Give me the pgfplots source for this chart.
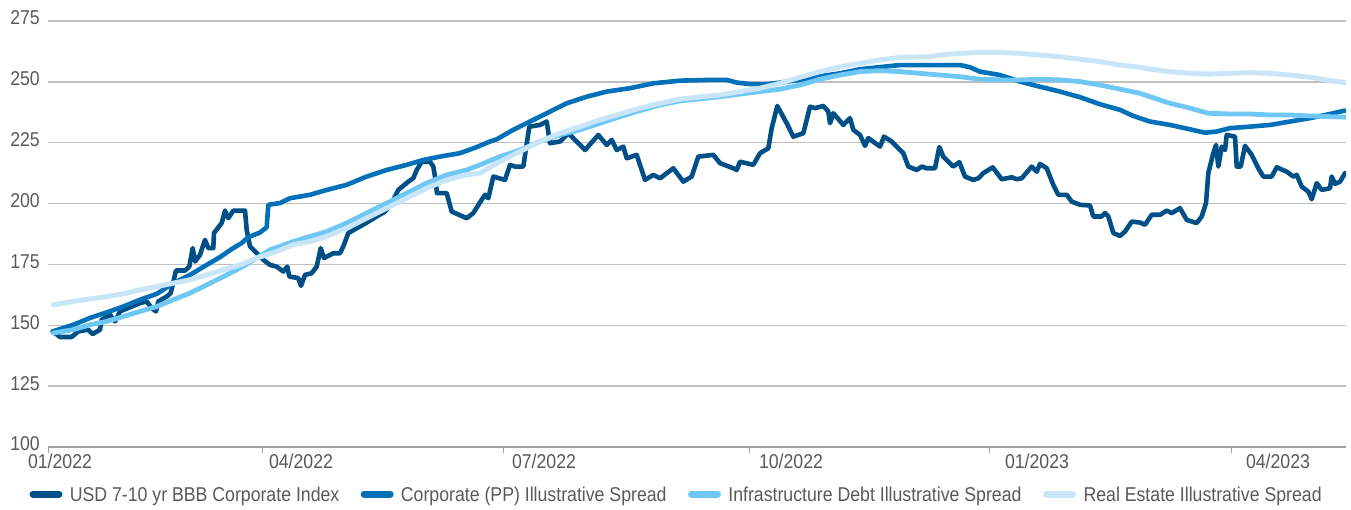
\documentclass[border=0pt]{standalone}
\usepackage{fontspec}
\setmainfont{Liberation Sans}[FakeStretch=0.885]
\usepackage{pgfplots}
\pgfplotsset{compat=1.18}
\definecolor{cdark}{RGB}{0,79,135}
\definecolor{cmed}{RGB}{0,112,184}
\definecolor{cinfra}{RGB}{110,200,243}
\definecolor{creal}{RGB}{200,230,248}
\definecolor{gridgray}{RGB}{192,192,192}
\definecolor{axisgray}{RGB}{160,160,160}
\definecolor{txtgray}{RGB}{89,89,89}
\begin{document}
\begin{tikzpicture}
\begin{axis}[
  name=ax,
  scale only axis, width=1298bp, height=426bp,
  xmin=48, xmax=1346, ymin=100, ymax=275,
  axis x line*=bottom, axis y line*=left,
  y axis line style={draw=none},
  x axis line style={draw=axisgray, line width=1.5bp},
  ymajorgrids, major grid style={draw=gridgray, line width=1.3bp},
  ytick={100,125,...,275},
  major tick length=0pt,
  /pgf/number format/assume math mode=true,
  xtick={60,301,544,791,1037,1278},
  xticklabels={01/2022,04/2022,07/2022,10/2022,01/2023,04/2023},
  extra x ticks={48,262,503,749,989,1231},
  extra x tick labels={,,,,,},
  extra x tick style={major tick length=6bp, tick align=outside, tick style={draw=axisgray, line width=1bp}},
  tick label style={font=\fontsize{20bp}{24bp}\selectfont, text=txtgray},
  yticklabel style={anchor=east, inner sep=0pt, xshift=-8bp, yshift=3bp},
  xticklabel style={anchor=north, inner sep=0pt, yshift=-7bp},
  legend columns=4,
  legend style={draw=none, fill=none, inner sep=0pt, at={(0,0)}, anchor=west, xshift=-21bp, yshift=-47bp,
    font=\fontsize{20bp}{24bp}\selectfont, text=txtgray,
    nodes={inner sep=0pt, text depth=0pt},
    /tikz/every even column/.append style={column sep=19bp}},
  legend image code/.code={\draw[#1, line width=7bp, line cap=round] (3.5bp,0bp) -- (29.5bp,0bp); \path (0bp,-3.5bp) (38bp,3.5bp);},
  every axis plot/.append style={line join=round, line cap=round, mark=none},
]
\addplot[cdark, line width=4.6bp] coordinates {(52.7,147.5)(60,145.2)(71.7,145.2)(78.3,147.5)(88,148.2)(92.7,146.4)(100,148.2)(101.7,152.3)(110,154.3)(115,151.6)(120,155.7)(131.7,157.7)(140,159.1)(146.7,159.8)(151.7,157.1)(156,155.7)(158.3,159.8)(166.7,161.8)(170.7,163.2)(176,172.5)(185,172.5)(189.3,174.1)(192.7,181.7)(195,176.2)(200,178.9)(205,185.1)(208.3,181.7)(213.3,181.7)(214,187.9)(221.7,192.0)(225,197.1)(228.3,194.0)(233.3,197.1)(245,197.1)(246.7,189.2)(250,182.4)(263.3,176.9)(270,174.8)(276.7,174.1)(283.3,172.1)(287.3,174.1)(289.3,170.0)(298.3,169.4)(301,166.2)(305,170.7)(311.7,171.4)(316.7,174.1)(320.7,181.7)(324,177.6)(333.3,179.6)(340,179.6)(343.3,182.4)(348.3,187.9)(360,190.6)(366.7,192.2)(376.7,194.7)(385,196.7)(391.7,200.2)(398.3,205.6)(408.3,209.0)(413.3,210.4)(416.7,213.8)(421.7,217.2)(430,217.2)(433.3,215.2)(435,211.1)(437,204.3)(446.7,204.3)(451.7,196.7)(466.7,194.0)(473.3,196.1)(480,200.5)(485,203.6)(488.3,202.2)(493.3,211.1)(505,209.7)(510,215.9)(515,215.2)(523.3,215.2)(529.3,231.6)(540,232.3)(546.7,233.7)(550,224.8)(560,225.5)(568.3,228.9)(573.3,226.9)(585,222.0)(598.3,228.2)(606.7,224.1)(611.7,226.2)(616.7,222.0)(623.3,223.4)(626.7,218.6)(636.7,220.0)(645,209.7)(653.3,211.8)(660,210.4)(673.3,214.5)(683.3,209.0)(691.7,211.1)(698.3,219.3)(713.3,220.0)(720,216.6)(733.3,214.5)(736.7,213.8)(740,217.2)(753.3,215.9)(760,220.7)(768.3,222.7)(771.7,231.0)(777.3,240.1)(786.7,233.0)(793.3,227.5)(803.3,228.9)(810,239.8)(815,239.2)(823.3,240.1)(828.3,237.8)(830,233.0)(833.3,237.1)(843.3,232.3)(850,235.1)(853.3,230.3)(860,228.2)(865,223.7)(868.3,226.9)(880,223.4)(884,227.5)(891.7,225.5)(903.3,220.7)(908.3,215.2)(916.7,213.8)(921.7,215.2)(926.7,214.5)(935,214.5)(939.3,223.2)(943.3,219.3)(953.3,215.2)(959.3,217.0)(965,211.1)(973.3,209.7)(978.3,210.4)(983.3,212.5)(992.7,214.9)(1001.7,210.0)(1011.7,210.8)(1016.7,210.0)(1021.7,210.4)(1031.7,215.2)(1036.7,213.1)(1040,216.3)(1046.7,214.5)(1053.3,207.7)(1058.3,203.6)(1066.7,203.6)(1071.7,200.8)(1080,199.5)(1090,199.2)(1093.3,194.7)(1101.7,194.7)(1105,196.1)(1108.3,194.7)(1113.3,187.9)(1120,186.7)(1125,188.5)(1131.7,192.6)(1140,192.2)(1145,191.3)(1151.7,195.4)(1160,195.4)(1166.7,197.1)(1171.7,196.1)(1180,198.1)(1186.7,193.3)(1196.7,192.0)(1201.7,194.7)(1206,200.2)(1208.3,212.5)(1213.3,220.7)(1216,224.1)(1218.3,215.2)(1221.7,223.4)(1225,222.0)(1226.7,228.2)(1235,227.5)(1236.7,215.2)(1240.7,215.2)(1245,223.7)(1251.7,220.0)(1258.3,214.5)(1263.3,211.1)(1271.7,211.1)(1276.7,214.9)(1286.7,213.1)(1293.3,211.1)(1296.7,211.8)(1301.7,207.0)(1308.3,204.9)(1311.7,201.8)(1316.7,208.4)(1321.7,205.6)(1330,206.3)(1331.7,211.1)(1335,208.1)(1340,209.0)(1345,212.5)};
\addlegendentry{USD 7-10 yr BBB Corporate Index}
\addplot[cmed, line width=4.6bp] coordinates {(52.7,147.5)(73.3,150.2)(90,153.0)(106.7,155.3)(123.3,157.7)(140,160.5)(156.7,162.9)(173.3,167.3)(190,170.7)(206.7,174.8)(220,178.0)(231.7,181.3)(241.7,183.8)(248.3,186.2)(260,188.1)(266.7,190.3)(268.3,199.5)(280,200.2)(290,202.2)(310,203.6)(326.7,205.6)(346.7,207.7)(366.7,211.1)(386.7,213.8)(406.7,215.9)(423.3,217.9)(440,219.3)(460,220.7)(476.7,223.2)(490,225.5)(496.7,226.4)(513.3,230.3)(530,233.7)(546.7,237.1)(566.7,241.2)(586.7,243.9)(606.7,246.0)(630,247.4)(653.3,249.4)(680,250.5)(710,250.8)(726.7,250.8)(736.7,249.7)(750,249.1)(766.7,249.0)(780,249.7)(800,250.8)(816.7,252.1)(840,253.5)(860,255.2)(883.3,256.2)(900,256.9)(960,256.9)(970,256.0)(980,254.2)(1000,252.8)(1020,250.1)(1040,248.0)(1060,246.0)(1080,243.7)(1100,240.8)(1120,238.5)(1133.3,236.0)(1150,233.7)(1170,232.3)(1190,230.5)(1205,229.1)(1216.7,229.6)(1230,231.0)(1250,231.6)(1270,232.3)(1290,233.7)(1310,235.1)(1330,236.8)(1345,238.2)};
\addlegendentry{Corporate (PP) Illustrative Spread}
\addplot[cinfra, line width=4.8bp] coordinates {(53.3,146.8)(73.3,148.2)(90,150.2)(106.7,151.6)(123.3,153.6)(140,155.7)(156.7,157.7)(173.3,160.5)(190,163.2)(206.7,166.6)(223.3,170.0)(240,173.5)(256.7,177.6)(270,181.0)(293.3,184.4)(310,186.5)(326.7,188.5)(346.7,192.0)(366.7,196.1)(386.7,200.2)(406.7,204.3)(426.7,208.4)(446.7,211.8)(466.7,213.8)(480,215.9)(500,219.3)(520,222.0)(540,225.5)(560,228.2)(580,230.3)(600,233.0)(620,235.7)(640,238.2)(660,240.5)(680,242.2)(700,243.0)(720,243.9)(740,245.0)(760,246.0)(780,247.0)(800,248.7)(820,251.1)(840,252.8)(860,254.2)(880,254.6)(900,254.2)(920,253.5)(940,252.8)(960,252.1)(980,251.1)(1000,250.8)(1020,250.8)(1040,251.1)(1060,250.8)(1080,250.1)(1100,248.7)(1120,247.0)(1140,245.3)(1150,243.9)(1170,241.2)(1190,239.2)(1208.3,237.1)(1230,236.8)(1250,236.8)(1270,236.4)(1290,236.4)(1310,236.0)(1330,235.7)(1345,235.5)};
\addlegendentry{Infrastructure Debt Illustrative Spread}
\addplot[creal, line width=5bp] coordinates {(53.3,158.4)(73.3,159.8)(90,160.8)(106.7,161.8)(123.3,162.9)(140,164.6)(156.7,165.9)(173.3,167.3)(190,168.7)(206.7,170.7)(223.3,172.8)(240,174.8)(256.7,177.6)(276.7,180.3)(293.3,183.1)(310,184.4)(326.7,186.5)(346.7,189.9)(366.7,194.0)(386.7,198.1)(406.7,202.2)(426.7,206.3)(446.7,209.7)(466.7,211.8)(480,212.5)(500,217.2)(520,221.4)(540,225.5)(560,228.9)(580,231.6)(600,234.4)(620,236.8)(640,239.2)(660,241.2)(680,242.9)(700,243.8)(720,244.6)(740,246.0)(760,247.4)(780,249.4)(800,251.9)(820,254.2)(840,256.2)(860,257.6)(880,259.0)(900,260.1)(930,260.3)(940,261.0)(960,261.7)(980,262.1)(1000,262.1)(1020,261.7)(1040,261.0)(1060,260.3)(1080,259.3)(1100,258.3)(1120,256.9)(1140,256.0)(1150,255.2)(1170,254.2)(1190,253.5)(1210,253.2)(1230,253.5)(1250,253.8)(1270,253.5)(1290,252.8)(1310,251.9)(1330,250.5)(1345,249.7)};
\addlegendentry{Real Estate Illustrative Spread}
\end{axis}
\pgfresetboundingbox
\useasboundingbox ([shift={(-48bp,-62bp)}]ax.south west) rectangle ([shift={(5bp,21bp)}]ax.north east);
\end{tikzpicture}
\end{document}
